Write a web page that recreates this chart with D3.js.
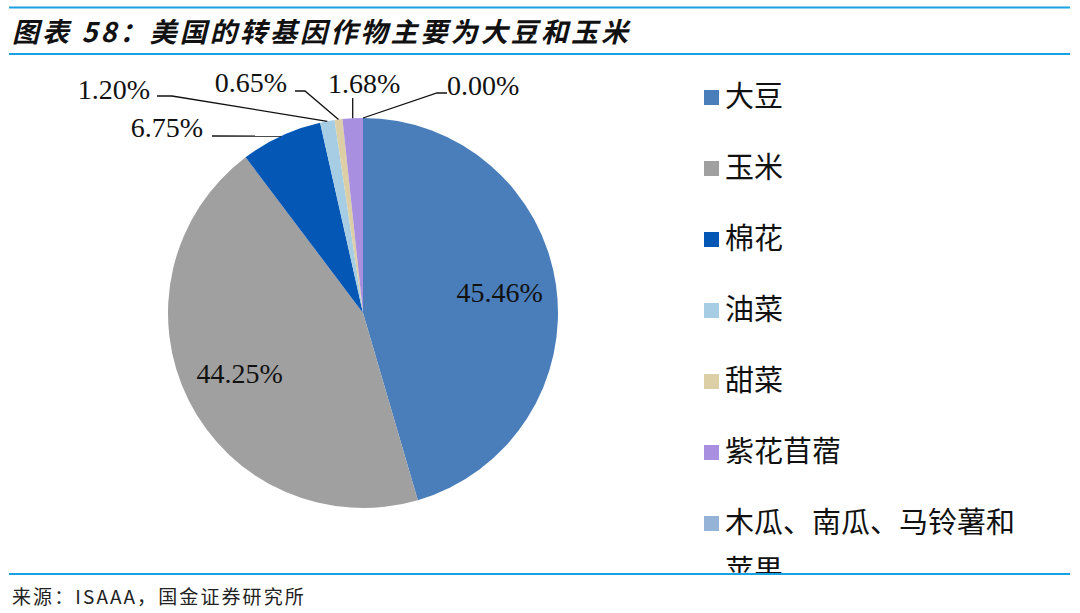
<!DOCTYPE html>
<html>
<head>
<meta charset="utf-8">
<script src="https://cdn.jsdelivr.net/npm/d3@7"></script>
<style>
    body { margin: 0; background: #fff; }
    svg { display: block; }
</style>
</head>
<body>
<div id="pie_chart"></div>
<script>
// data
var categories = ["大豆", "玉米", "棉花", "油菜", "甜菜", "紫花苜蓿", "木瓜、南瓜、马铃薯和苹果"]
var shares = [45.46, 44.25, 6.75, 1.20, 0.65, 1.68, 0.00]
var colors = ["#4a7ebb", "#a0a0a0", "#0457b5", "#a6cde3", "#dccfa5", "#a98fe0", "#95b3d7"]

var width = 1080,
    height = 613
var cx = 363,
    cy = 313,
    radius = 195

var f = d3.format(".2f")

var svg = d3.select("#pie_chart")
    .append("svg")
    .attr("width", width)
    .attr("height", height)

// frame lines + title + source
var lineColor = "#1ba1e2"
svg.append("line").attr("x1", 9).attr("x2", 1070).attr("y1", 7.5).attr("y2", 7.5)
    .attr("stroke", lineColor).attr("stroke-width", 2)
svg.append("line").attr("x1", 9).attr("x2", 1070).attr("y1", 54).attr("y2", 54)
    .attr("stroke", lineColor).attr("stroke-width", 2)
svg.append("line").attr("x1", 9).attr("x2", 1070).attr("y1", 574).attr("y2", 574)
    .attr("stroke", lineColor).attr("stroke-width", 2)

svg.append("text")
    .attr("x", 12)
    .attr("y", 42)
    .attr("font-family", "'Noto Sans CJK SC', sans-serif")
    .attr("font-size", 27)
    .attr("font-weight", "bold")
    .attr("font-style", "italic")
    .attr("letter-spacing", 3.1)
    .attr("fill", "#111")
    .text("图表 58：美国的转基因作物主要为大豆和玉米")

svg.append("text")
    .attr("x", 12)
    .attr("y", 604)
    .attr("font-family", "'Noto Sans CJK SC', sans-serif")
    .attr("font-size", 19)
    .attr("letter-spacing", 2.1)
    .attr("fill", "#222")
    .text("来源：ISAAA，国金证券研究所")

// pie
var pie = d3.pie().sort(null).value(function(d) { return d.value })
var items = categories.map(function(c, i) {
    return { name: c, value: shares[i], color: colors[i] }
})
var arcs = pie(items)

var arc = d3.arc().innerRadius(0).outerRadius(radius)
var edgeArc = d3.arc().innerRadius(radius).outerRadius(radius)
var innerLabelArc = d3.arc().innerRadius(138).outerRadius(138)

var g = svg.append("g")
    .attr("transform", "translate(" + cx + "," + cy + ")")

g.selectAll("path.slice")
    .data(arcs)
    .enter()
    .append("path")
    .attr("class", "slice")
    .attr("d", arc)
    .attr("fill", function(d) { return d.data.color })

var labelFont = "'Liberation Serif', 'Times New Roman', serif"

// big slices: labels inside
g.selectAll("text.inner")
    .data(arcs.filter(function(d) { return d.data.value > 20 }))
    .enter()
    .append("text")
    .attr("class", "inner")
    .attr("transform", function(d) { return "translate(" + innerLabelArc.centroid(d) + ")" })
    .attr("dy", "0.3em")
    .attr("text-anchor", "middle")
    .attr("font-family", labelFont)
    .attr("font-size", 28)
    .attr("fill", "#111")
    .text(function(d) { return f(d.data.value) + "%" })

// small slices: labels outside with leader lines (offsets from centre)
var outerLayout = {
    "棉花": { tx: -160, ty: -176, anchor: "end", elbow: [[-151, -177]] },
    "油菜": { tx: -213, ty: -214, anchor: "end", elbow: [[-206, -217], [-191, -217]] },
    "甜菜": { tx: -76, ty: -221, anchor: "end", elbow: [[-68, -222], [-58, -222]] },
    "紫花苜蓿": { tx: -35, ty: -220, anchor: "start", elbow: "up" },
    "木瓜、南瓜、马铃薯和苹果": { tx: 84, ty: -218, anchor: "start", elbow: [[84, -220], [74, -220]] }
}

var outer = arcs.filter(function(d) { return d.data.value <= 20 })

outer.forEach(function(d) {
    var lay = outerLayout[d.data.name]
    var p = edgeArc.centroid(d)
    var pts
    if (lay.elbow === "up") {
        pts = [[p[0], -215], p]
    } else {
        pts = lay.elbow.concat([p])
    }
    g.append("path")
        .attr("d", d3.line()(pts))
        .attr("fill", "none")
        .attr("stroke", "#111")
        .attr("stroke-width", 1.3)

    g.append("text")
        .attr("x", lay.tx)
        .attr("y", lay.ty)
        .attr("text-anchor", lay.anchor)
        .attr("font-family", labelFont)
        .attr("font-size", 28)
        .attr("fill", "#111")
        .text(f(d.data.value) + "%")
})

// legend
var clip = svg.append("clipPath").attr("id", "legendClip")
clip.append("rect").attr("x", 680).attr("y", 60).attr("width", 400).attr("height", 513)

var legend = svg.append("g").attr("clip-path", "url(#legendClip)")

var legendY = d3.scalePoint()
    .domain(categories)
    .range([97, 523])

var maxTextWidth = 300

categories.forEach(function(c, i) {
    var y = legendY(c)
    legend.append("rect")
        .attr("x", 704)
        .attr("y", y - 7)
        .attr("width", 15)
        .attr("height", 15)
        .attr("fill", colors[i])

    var t = legend.append("text")
        .attr("x", 725)
        .attr("y", y)
        .attr("font-family", "'Noto Sans CJK SC', sans-serif")
        .attr("font-size", 29)
        .attr("fill", "#111")

    // simple char wrap
    var chars = c.split("")
    var line = ""
    var lines = []
    var probe = t.append("tspan")
    chars.forEach(function(ch) {
        probe.text(line + ch)
        if (probe.node().getComputedTextLength() > maxTextWidth && line.length) {
            lines.push(line)
            line = ch
        } else {
            line += ch
        }
    })
    lines.push(line)
    probe.remove()

    lines.forEach(function(l, k) {
        t.append("tspan")
            .attr("x", 725)
            .attr("dy", k == 0 ? "0.35em" : 48)
            .text(l)
    })
})
</script>
</body>
</html>
